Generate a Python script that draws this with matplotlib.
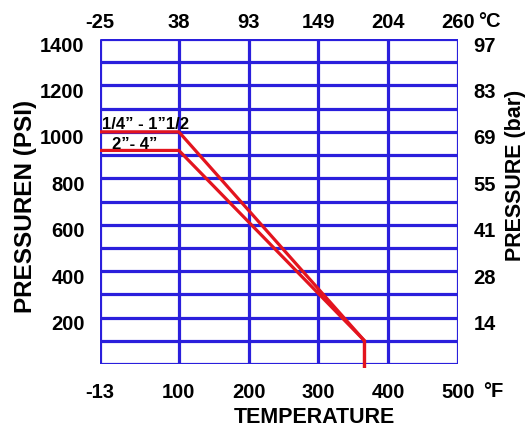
import numpy as np
import matplotlib
matplotlib.use('Agg')
import matplotlib.pyplot as plt
import matplotlib.transforms as mtransforms

# temperature ticks (°F, bottom) and matching °C labels (top)
temp_f = [-13, 100, 200, 300, 400, 500]
temp_c_labels = ['-25', '38', '93', '149', '204', '260']

# pressure ticks (psi, left) and matching bar labels (right)
psi_ticks = [200, 400, 600, 800, 1000, 1200, 1400]
bar_labels = ['14', '28', '41', '55', '69', '83', '97']

# rating curves: temperature (°F) vs pressure (psi)
small_t = [-13, 100, 366, 366]
small_p = [1000, 1000, 100, -17]
large_t = [-13, 100, 366, 366]
large_p = [920, 920, 100, -17]

blue = '#2a1fdc'
red = '#e3141e'

plt.rcParams['font.family'] = ['Liberation Sans', 'DejaVu Sans']
plt.rcParams['font.weight'] = 'bold'

fig = plt.figure(figsize=(5.31, 4.27), dpi=100)
ax = fig.add_axes([100 / 531, 62 / 427, 358 / 531, 325 / 427])
ax.set_xlim(-13, 500)
ax.set_ylim(0, 1400)

# grid
for t in temp_f:
    ax.axvline(t, color=blue, lw=2.3, zorder=1, solid_capstyle='butt')
for p in range(0, 1500, 100):
    ax.axhline(p, color=blue, lw=2.3, zorder=1, solid_capstyle='butt')
for s in ax.spines.values():
    s.set_visible(False)

ax.plot(small_t, small_p, color=red, lw=2.3, zorder=3, clip_on=False, solid_capstyle='butt')
ax.plot(large_t, large_p, color=red, lw=2.3, zorder=3, clip_on=False, solid_capstyle='butt')

ax.text(-10, 1038, '1/4\u201d - 1\u201d1/2', fontsize=12, fontweight='bold', va='center', ha='left', zorder=4)
ax.text(4, 952, '2\u201d- 4\u201d', fontsize=12, fontweight='bold', va='center', ha='left', zorder=4)

# bottom / left ticks
ax.set_xticks(temp_f)
ax.set_xticklabels([str(t) for t in temp_f])
ax.set_yticks(psi_ticks)
ax.set_yticklabels([str(p) for p in psi_ticks])
ax.tick_params(axis='both', length=0, labelsize=14.5)
ax.tick_params(axis='x', pad=13)
ax.tick_params(axis='y', pad=11)

# top (°C) axis
axt = ax.twiny()
axt.set_xlim(ax.get_xlim())
axt.set_xticks(temp_f)
axt.set_xticklabels(temp_c_labels)
axt.tick_params(length=0, labelsize=14.5, pad=6)

# right (bar) axis
axr = ax.twinx()
axr.set_ylim(ax.get_ylim())
axr.set_yticks(psi_ticks)
axr.set_yticklabels(bar_labels)
axr.tick_params(length=0, labelsize=14.5, pad=11)
for a in (axt, axr):
    for s in a.spines.values():
        s.set_visible(False)

# tick labels sit a bit below their lines
off = mtransforms.ScaledTranslation(0, -4 / 100, fig.dpi_scale_trans)
for lab in ax.get_yticklabels() + axr.get_yticklabels():
    lab.set_transform(lab.get_transform() + off)

# unit marks after the last ticks
ax.annotate('\u00b0F', xy=(500, 0), xycoords=('data', 'axes fraction'),
            xytext=(25, -27), textcoords='offset pixels', ha='left', va='center',
            fontsize=14.5, fontweight='bold')
ax.annotate('\u00b0C', xy=(500, 1), xycoords=('data', 'axes fraction'),
            xytext=(20, 19), textcoords='offset pixels', ha='left', va='center',
            fontsize=14.5, fontweight='bold')

fig.text(26 / 531, 1 - 206 / 427, 'PRESSUREN (PSI)', rotation=90, ha='center', va='center',
         fontsize=17.5, fontweight='bold')
fig.text(516 / 531, 1 - 175 / 427, 'PRESSURE (bar)', rotation=90, ha='center', va='center',
         fontsize=15.5, fontweight='bold')
fig.text(314 / 531, 1 - 418 / 427, 'TEMPERATURE', ha='center', va='center',
         fontsize=15.5, fontweight='bold')

fig.savefig('out.png', dpi=100)
